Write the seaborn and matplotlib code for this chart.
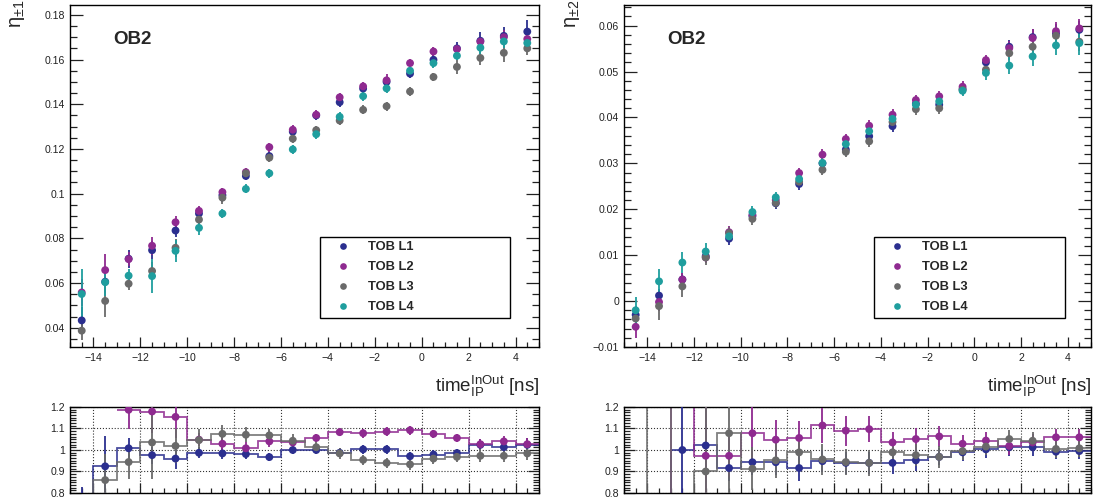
import numpy as np
import pandas as pd
import matplotlib
matplotlib.use('Agg')
import matplotlib.pyplot as plt
import seaborn as sns
from matplotlib.ticker import MultipleLocator, FuncFormatter

# -------- data --------
layers = ['TOB L1', 'TOB L2', 'TOB L3', 'TOB L4']
colors = {'TOB L1': '#2b2f8f', 'TOB L2': '#8f2a90', 'TOB L3': '#6a6a6a', 'TOB L4': '#1f9e9e'}

time_ns = [-14.5, -13.5, -12.5, -11.5, -10.5, -9.5, -8.5, -7.5, -6.5, -5.5,
           -4.5, -3.5, -2.5, -1.5, -0.5, 0.5, 1.5, 2.5, 3.5, 4.5]

# eta_{+-1}
eta1_L1 = [0.0433, 0.0606, 0.0709, 0.0747, 0.0835, 0.0911, 0.0993, 0.1079, 0.1168, 0.1277,
           0.1350, 0.1409, 0.1470, 0.1500, 0.1537, 0.1599, 0.1650, 0.1684, 0.1706, 0.1725]
eta1_L2 = [0.0558, 0.0658, 0.0707, 0.0767, 0.0872, 0.0923, 0.1007, 0.1096, 0.1208, 0.1286,
           0.1353, 0.1431, 0.1480, 0.1507, 0.1584, 0.1636, 0.1647, 0.1680, 0.1700, 0.1692]
eta1_L3 = [0.0387, 0.0520, 0.0597, 0.0654, 0.0758, 0.0884, 0.0982, 0.1091, 0.1161, 0.1246,
           0.1284, 0.1327, 0.1375, 0.1391, 0.1457, 0.1522, 0.1567, 0.1607, 0.1630, 0.1650]
eta1_L4 = [0.0551, 0.0604, 0.0633, 0.0631, 0.0744, 0.0847, 0.0911, 0.1021, 0.1091, 0.1198,
           0.1266, 0.1344, 0.1436, 0.1471, 0.1550, 0.1584, 0.1617, 0.1653, 0.1681, 0.1674]
eta1_err_L1 = [0.006, 0.005, 0.004, 0.004, 0.003, 0.003, 0.003, 0.002, 0.002, 0.002,
               0.002, 0.002, 0.002, 0.002, 0.002, 0.002, 0.003, 0.004, 0.004, 0.005]
eta1_err_L2 = [0.006, 0.007, 0.003, 0.004, 0.003, 0.002, 0.002, 0.002, 0.002, 0.002,
               0.002, 0.002, 0.002, 0.003, 0.002, 0.002, 0.002, 0.002, 0.003, 0.003]
eta1_err_L3 = [0.004, 0.007, 0.003, 0.004, 0.004, 0.003, 0.003, 0.002, 0.002, 0.002,
               0.002, 0.002, 0.002, 0.002, 0.002, 0.002, 0.003, 0.003, 0.004, 0.003]
eta1_err_L4 = [0.011, 0.006, 0.003, 0.0075, 0.005, 0.003, 0.002, 0.002, 0.002, 0.002,
               0.002, 0.002, 0.002, 0.002, 0.002, 0.002, 0.002, 0.003, 0.003, 0.004]

# eta_{+-2}
eta2_L1 = [-0.0030, 0.0012, 0.0047, 0.0098, 0.0136, 0.0185, 0.0213, 0.0255, 0.0300, 0.0330,
           0.0359, 0.0381, 0.0430, 0.0428, 0.0462, 0.0520, 0.0554, 0.0575, 0.0583, 0.0591]
eta2_L2 = [-0.0056, -0.0002, 0.0047, 0.0095, 0.0150, 0.0188, 0.0220, 0.0279, 0.0319, 0.0353,
           0.0382, 0.0406, 0.0438, 0.0446, 0.0467, 0.0525, 0.0551, 0.0573, 0.0588, 0.0594]
eta2_L3 = [-0.0038, -0.0011, 0.0032, 0.0095, 0.0148, 0.0179, 0.0214, 0.0260, 0.0286, 0.0325,
           0.0348, 0.0390, 0.0418, 0.0420, 0.0460, 0.0504, 0.0540, 0.0554, 0.0578, 0.0565]
eta2_L4 = [-0.0020, 0.0043, 0.0084, 0.0108, 0.0141, 0.0194, 0.0226, 0.0266, 0.0301, 0.0342,
           0.0370, 0.0397, 0.0428, 0.0435, 0.0458, 0.0497, 0.0513, 0.0533, 0.0557, 0.0562]
eta2_err_L1 = [0.002, 0.0015, 0.0015, 0.0013, 0.0013, 0.0013, 0.0012, 0.0012, 0.0012, 0.0012,
               0.0012, 0.0012, 0.0012, 0.0012, 0.0012, 0.0012, 0.0015, 0.0018, 0.002, 0.002]
eta2_err_L2 = [0.0025, 0.002, 0.0015, 0.0013, 0.0013, 0.0013, 0.0012, 0.0012, 0.0012, 0.0012,
               0.0012, 0.0012, 0.0012, 0.0012, 0.0012, 0.0012, 0.0015, 0.002, 0.002, 0.002]
eta2_err_L3 = [0.0025, 0.003, 0.0022, 0.0016, 0.0014, 0.0013, 0.0012, 0.0012, 0.0012, 0.0012,
               0.0012, 0.0012, 0.0012, 0.0012, 0.0012, 0.0012, 0.0015, 0.0018, 0.002, 0.002]
eta2_err_L4 = [0.003, 0.0027, 0.0022, 0.0018, 0.0013, 0.0013, 0.0012, 0.0012, 0.0012, 0.0012,
               0.0012, 0.0012, 0.0012, 0.0012, 0.0012, 0.0015, 0.0018, 0.002, 0.0022, 0.0025]

# ratio panels (L1, L2, L3)
r1_L1 = [0.78, 0.924, 1.008, 0.976, 0.960, 0.987, 0.984, 0.981, 0.967, 1.000,
         1.000, 0.987, 1.003, 1.003, 0.971, 0.979, 0.986, 1.024, 1.013, 1.024]
r1_L2 = [np.nan, np.nan, 1.187, 1.179, 1.154, 1.048, 1.029, 1.008, 1.040, 1.035,
         1.056, 1.083, 1.078, 1.086, 1.092, 1.075, 1.056, 1.027, 1.040, 1.027]
r1_L3 = [0.70, 0.860, 0.944, 1.035, 1.019, 1.046, 1.075, 1.071, 1.068, 1.043,
         1.013, 0.984, 0.954, 0.940, 0.933, 0.960, 0.968, 0.973, 0.973, 0.984]
r1_err_L1 = [0.05, 0.14, 0.05, 0.04, 0.05, 0.025, 0.025, 0.025, 0.02, 0.02,
             0.02, 0.02, 0.02, 0.02, 0.02, 0.02, 0.02, 0.025, 0.025, 0.03]
r1_err_L2 = [np.nan, np.nan, 0.09, 0.10, 0.10, 0.03, 0.03, 0.03, 0.025, 0.025,
             0.02, 0.02, 0.02, 0.02, 0.02, 0.02, 0.02, 0.025, 0.025, 0.03]
r1_err_L3 = [0.1, 0.12, 0.08, 0.17, 0.08, 0.05, 0.04, 0.035, 0.03, 0.03,
             0.03, 0.025, 0.025, 0.025, 0.025, 0.025, 0.025, 0.03, 0.03, 0.03]

r2_L1 = [0.70, 0.70, 1.000, 1.021, 0.916, 0.943, 0.943, 0.916, 0.948, 0.940,
         0.940, 0.940, 0.952, 0.968, 0.989, 1.003, 1.013, 1.013, 0.992, 0.995]
r2_L2 = [0.70, 0.70, 1.40, 0.973, 0.973, 1.078, 1.048, 1.056, 1.114, 1.090,
         1.097, 1.035, 1.051, 1.063, 1.029, 1.044, 1.019, 1.035, 1.059, 1.059]
r2_L3 = [0.70, 1.40, 0.70, 0.900, 1.078, 0.913, 0.952, 0.989, 0.956, 0.944,
         0.940, 0.989, 0.976, 0.968, 0.995, 1.016, 1.051, 1.043, 1.005, 1.008]
r2_err_L1 = [0, 0, 0.5, 0.1, 0.06, 0.06, 0.06, 0.06, 0.05, 0.05,
             0.05, 0.05, 0.05, 0.04, 0.04, 0.04, 0.04, 0.04, 0.035, 0.035]
r2_err_L2 = [0, 0, 0, 0.5, 0.1, 0.12, 0.09, 0.08, 0.08, 0.07,
             0.06, 0.05, 0.05, 0.05, 0.04, 0.04, 0.04, 0.04, 0.04, 0.04]
r2_err_L3 = [0, 0, 0, 0.3, 0.5, 0.1, 0.08, 0.08, 0.07, 0.06,
             0.06, 0.05, 0.05, 0.05, 0.04, 0.04, 0.04, 0.04, 0.04, 0.04]

# -------- style --------
sns.set_theme(style='ticks')
plt.rcParams['font.family'] = ['Liberation Sans', 'DejaVu Sans']
plt.rcParams['mathtext.fontset'] = 'custom'
plt.rcParams['mathtext.rm'] = 'Liberation Sans'
plt.rcParams['mathtext.it'] = 'Liberation Sans:italic'
plt.rcParams['mathtext.bf'] = 'Liberation Sans:bold'

W, H = 1096, 499
fig = plt.figure(figsize=(W / 100, H / 100), dpi=100)


def px_axes(x0, y0, x1, y1):
    return fig.add_axes([x0 / W, 1 - y1 / H, (x1 - x0) / W, (y1 - y0) / H])


def root_fmt(v, pos):
    return f'{v:g}'.replace('-', '\u2212')


def frame(ax, ymaj, ymin):
    for s in ax.spines.values():
        s.set_color('black')
        s.set_linewidth(1.0)
    ax.xaxis.set_major_locator(MultipleLocator(2))
    ax.xaxis.set_minor_locator(MultipleLocator(0.5))
    ax.yaxis.set_major_locator(MultipleLocator(ymaj))
    ax.yaxis.set_minor_locator(MultipleLocator(ymin))
    ax.xaxis.set_major_formatter(FuncFormatter(root_fmt))
    ax.yaxis.set_major_formatter(FuncFormatter(root_fmt))
    ax.tick_params(which='both', direction='in', top=False, right=True,
                   labelsize=7.6, labelcolor='#222222', color='#222222', width=0.9)
    ax.tick_params(axis='y', which='major', length=9.5, pad=3.5)
    ax.tick_params(axis='y', which='minor', length=5)
    ax.tick_params(axis='x', which='major', length=7, pad=4)
    ax.tick_params(axis='x', which='minor', length=3.6)
    ax.set_xlim(-15, 5)
    ax.set_xlabel('')
    ax.set_ylabel('')


def draw_main(ax, vals, errs, ylim, ymaj, ymin, ylabel, leg_x, leg_w):
    df = pd.DataFrame({
        'time': np.tile(time_ns, len(layers)),
        'eta': np.concatenate(vals),
        'layer': np.repeat(layers, len(time_ns)),
    })
    for lay, v, e in zip(layers, vals, errs):
        ax.errorbar(time_ns, v, yerr=e, fmt='none', ecolor=colors[lay],
                    elinewidth=1.3, capsize=0, zorder=2)
    sns.scatterplot(data=df, x='time', y='eta', hue='layer', palette=colors,
                    s=32, linewidth=0, ax=ax, zorder=3, legend=True)
    old = ax.get_legend()
    handles = old.legend_handles
    labels = [t.get_text() for t in old.get_texts()]
    old.remove()
    leg = ax.legend(handles, labels, loc='lower left',
                    bbox_to_anchor=(leg_x, 0.085, leg_w, 0.245), mode='expand',
                    borderaxespad=0, frameon=True, fancybox=False, framealpha=1,
                    edgecolor='black', prop={'weight': 'bold', 'size': 9.3},
                    handlelength=2.9, handletextpad=0.45, labelspacing=0.62,
                    borderpad=0.35, markerscale=0.85)
    leg.get_frame().set_linewidth(1.0)
    frame(ax, ymaj, ymin)
    ax.set_ylim(*ylim)
    ax.text(0.092, 0.898, 'OB2', transform=ax.transAxes, fontsize=13.5,
            fontweight='bold', ha='left', va='center')
    ax.text(1.0, -0.1316, r'time$_{\mathrm{IP}}^{\mathrm{InOut}}$ [ns]',
            transform=ax.transAxes, ha='right', va='baseline', fontsize=13.5)
    ax.text(-0.111, 1.0146, ylabel, transform=ax.transAxes, rotation=90,
            ha='center', va='top', fontsize=14.5)


def draw_ratio(ax, vals, errs):
    edges = np.append(np.array(time_ns) - 0.5, time_ns[-1] + 0.5)
    rl = layers[:3]
    for lay, v, e in zip(rl, vals, errs):
        ax.stairs(v, edges, color=colors[lay], linewidth=1.3, alpha=0.85,
                  baseline=None, zorder=2)
        ax.errorbar(time_ns, v, yerr=e, fmt='none', ecolor=colors[lay],
                    elinewidth=1.3, capsize=0, zorder=3)
    df = pd.DataFrame({
        'time': np.tile(time_ns, len(rl)),
        'ratio': np.concatenate(vals),
        'layer': np.repeat(rl, len(time_ns)),
    })
    sns.scatterplot(data=df, x='time', y='ratio', hue='layer', palette=colors,
                    s=32, linewidth=0, ax=ax, zorder=4, legend=False)
    frame(ax, 0.1, 0.0125)
    ax.set_ylim(0.8, 1.2)
    ax.tick_params(axis='x', labelbottom=False)
    ax.tick_params(axis='y', which='major', length=8)
    ax.tick_params(axis='y', which='minor', length=4.5)
    ax.grid(True, which='major', linestyle=':', color='#333333', linewidth=0.8)


ax1 = px_axes(70, 5, 539, 347)
ax1r = px_axes(70, 407, 539, 493)
ax2 = px_axes(624, 5, 1091, 347)
ax2r = px_axes(624, 407, 1091, 493)

draw_main(ax1, [eta1_L1, eta1_L2, eta1_L3, eta1_L4],
          [eta1_err_L1, eta1_err_L2, eta1_err_L3, eta1_err_L4],
          (0.0314, 0.1844), 0.02, 0.005, 'η$_{\\pm 1}$', 0.533, 0.405)
draw_main(ax2, [eta2_L1, eta2_L2, eta2_L3, eta2_L4],
          [eta2_err_L1, eta2_err_L2, eta2_err_L3, eta2_err_L4],
          (-0.01, 0.0645), 0.01, 0.002, 'η$_{\\pm 2}$', 0.535, 0.409)
draw_ratio(ax1r, [r1_L1, r1_L2, r1_L3], [r1_err_L1, r1_err_L2, r1_err_L3])
draw_ratio(ax2r, [r2_L1, r2_L2, r2_L3], [r2_err_L1, r2_err_L2, r2_err_L3])

fig.savefig('out.png', dpi=100)
